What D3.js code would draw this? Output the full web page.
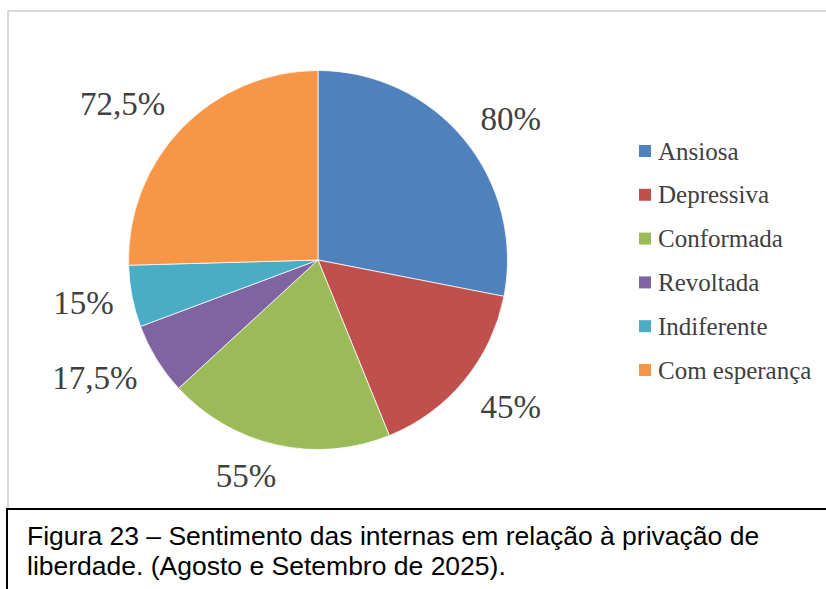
<!DOCTYPE html>
<html>
<head>
<meta charset="utf-8">
<script src="https://cdn.jsdelivr.net/npm/d3@7"></script>
<style>
  body { margin: 0; background: white; }
</style>
</head>
<body>
<script>
// Data
let categories = ['Ansiosa', 'Depressiva', 'Conformada', 'Revoltada', 'Indiferente', 'Com esperança'];
let values = [80, 45, 55, 17.5, 15, 72.5];
let valueLabels = ['80%', '45%', '55%', '17,5%', '15%', '72,5%'];
let captionLines = [
  'Figura 23 – Sentimento das internas em relação à privação de',
  'liberdade. (Agosto e Setembro de 2025).'
];

// styling
let colors = ['#4F81BD', '#C0504D', '#9BBB59', '#8064A2', '#4BACC6', '#F79646'];
// small nudges from the centroid, like Excel's "best fit" placement
let labelNudge = [[6, 13], [6, -7], [-19, -20], [-17, -9], [3, -3], [-22, 13]];

let width = 826,
    height = 589;

let svg = d3.select('body')
  .append('svg')
  .attr('width', width)
  .attr('height', height)
  .style('background', 'white');

// chart frame
svg.append('rect')
  .attr('x', 8)
  .attr('y', 11)
  .attr('width', 830)
  .attr('height', 520)
  .attr('fill', 'none')
  .attr('stroke', '#d9d9d9')
  .attr('stroke-width', 2);

let cx = 318, cy = 260, r = 189.5;

let data = categories.map((c, i) => ({ name: c, value: values[i], label: valueLabels[i], color: colors[i], nudge: labelNudge[i] }));

let pie = d3.pie().value(d => d.value).sort(null);
let arc = d3.arc().innerRadius(0).outerRadius(r);
let labelArc = d3.arc().innerRadius(242).outerRadius(242);

let g = svg.append('g').attr('transform', `translate(${cx},${cy})`);

g.selectAll('path')
  .data(pie(data))
  .enter()
  .append('path')
  .attr('d', arc)
  .attr('fill', d => d.data.color)
  .attr('stroke', 'white')
  .attr('stroke-width', 0.75);

g.selectAll('.val-label')
  .data(pie(data))
  .enter()
  .append('text')
  .attr('x', d => labelArc.centroid(d)[0] + d.data.nudge[0])
  .attr('y', d => labelArc.centroid(d)[1] + d.data.nudge[1])
  .attr('text-anchor', 'middle')
  .attr('dominant-baseline', 'central')
  .style('font-family', '"Liberation Serif", serif')
  .style('font-size', '33px')
  .style('fill', '#404040')
  .text(d => d.data.label);

// legend
let legendY = d3.scalePoint()
  .domain(categories)
  .range([151, 370]);

let legend = svg.selectAll('.legend')
  .data(data)
  .enter()
  .append('g')
  .attr('transform', d => `translate(639,${legendY(d.name)})`);

legend.append('rect')
  .attr('x', 0)
  .attr('y', -6)
  .attr('width', 12)
  .attr('height', 12)
  .attr('fill', d => d.color);

legend.append('text')
  .attr('x', 19)
  .attr('y', 0)
  .attr('dominant-baseline', 'central')
  .style('font-family', '"Liberation Serif", serif')
  .style('font-size', '25px')
  .style('fill', '#404040')
  .text(d => d.name);

// caption box
svg.append('rect')
  .attr('x', 7)
  .attr('y', 509)
  .attr('width', 830)
  .attr('height', 100)
  .attr('fill', 'white')
  .attr('stroke', 'black')
  .attr('stroke-width', 2);

svg.selectAll('.caption')
  .data(captionLines)
  .enter()
  .append('text')
  .attr('x', 27)
  .attr('y', (d, i) => 545 + i * 30)
  .style('font-family', '"Liberation Sans", Arial, sans-serif')
  .style('font-size', '26.5px')
  .style('fill', 'black')
  .text(d => d);
</script>
</body>
</html>
